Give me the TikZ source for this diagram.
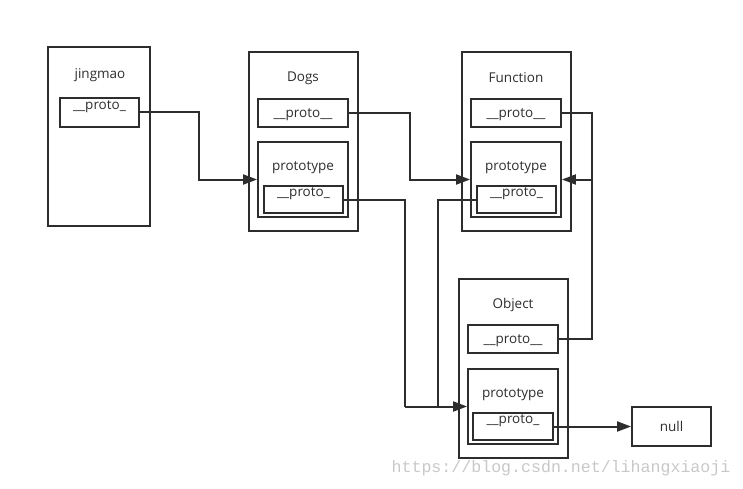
\documentclass[tikz,border=0pt]{standalone}
\usepackage{fontspec}
\setmainfont{Open Sans}
\newfontfamily\markfont{Liberation Mono}
\usepackage{tikz}
\usetikzlibrary{arrows.meta,calc}
\usepackage{xcolor}
\definecolor{inkgray}{RGB}{45, 45, 45}
\definecolor{markgray}{RGB}{200, 200, 200}

\begin{document}
\begin{tikzpicture}[x=1pt, y=-1pt, >={Triangle[length=14pt, width=10pt]},
    box/.style={draw=inkgray, line width=1.9pt, inner sep=0pt},
    txt/.style={inkgray, font=\fontsize{13.5}{15}\selectfont, inner sep=0pt},
    link/.style={draw=inkgray, line width=2pt}]
    \useasboundingbox (0, 0) rectangle (743, 489);
    % jingmao
    \node[box, minimum width=102, minimum height=179] (jm-out) at (99, 136.5) {};
    \node[txt] (jm-title) at (100, 75) {jingmao};
    \node[box, minimum width=79, minimum height=29] (jm-proto) at (99.5, 112.5) {};
    \node[txt] (jm-proto-t) at (99.5, 107) {\_\_proto\_};
    % Dogs
    \node[box, minimum width=109, minimum height=179] (dogs-out) at (303.5, 141.5) {};
    \node[txt] (dogs-title) at (303, 78) {Dogs};
    \node[box, minimum width=90, minimum height=28] (dogs-proto) at (303, 113) {};
    \node[txt] (dogs-proto-t) at (303, 114.5) {\_\_proto\_\_};
    \node[box, minimum width=90, minimum height=75] (dogs-type) at (303, 179.5) {};
    \node[txt] (dogs-type-t) at (303, 168) {prototype};
    \node[box, minimum width=79, minimum height=27] (dogs-inner) at (303.5, 199.5) {};
    \node[txt] (dogs-inner-t) at (303.5, 194) {\_\_proto\_};
    % Function
    \node[box, minimum width=109, minimum height=179] (fn-out) at (516.5, 141.5) {};
    \node[txt] (fn-title) at (516, 78) {Function};
    \node[box, minimum width=90, minimum height=28] (fn-proto) at (516, 113) {};
    \node[txt] (fn-proto-t) at (516, 114.5) {\_\_proto\_\_};
    \node[box, minimum width=90, minimum height=75] (fn-type) at (516, 179.5) {};
    \node[txt] (fn-type-t) at (516, 168) {prototype};
    \node[box, minimum width=79, minimum height=27] (fn-inner) at (516.5, 199.5) {};
    \node[txt] (fn-inner-t) at (516.5, 194) {\_\_proto\_};
    % Object
    \node[box, minimum width=109, minimum height=179] (obj-out) at (513.5, 368.5) {};
    \node[txt] (obj-title) at (513, 305) {Object};
    \node[box, minimum width=90, minimum height=28] (obj-proto) at (513, 339) {};
    \node[txt] (obj-proto-t) at (513, 340.5) {\_\_proto\_\_};
    \node[box, minimum width=90, minimum height=75] (obj-type) at (513, 406.5) {};
    \node[txt] (obj-type-t) at (513, 395) {prototype};
    \node[box, minimum width=80, minimum height=27] (obj-inner) at (513, 426.5) {};
    \node[txt] (obj-inner-t) at (513, 421) {\_\_proto\_};
    % null
    \node[box, minimum width=79, minimum height=39] (null) at (671.5, 426.5) {};
    \node[txt] (null-t) at (671.5, 426.5) {null};
    % links
    \coordinate (fn-bend) at (592, 179.5);
    \coordinate (obj-bend) at (405, 406.5);
    \coordinate (obj-bend2) at (438, 406.5);
    \draw[link, ->] (jm-proto.east) -| ($(jm-proto.east)!.5!(dogs-type.west)$) |- (dogs-type.west);
    \draw[link, ->] (dogs-proto.east) -| ($(dogs-proto.east)!.5!(fn-type.west)$) |- (fn-type.west);
    \draw[link] (fn-proto.east) -| (fn-bend);
    \draw[link] (obj-proto.east) -| (fn-bend);
    \draw[link, ->] (fn-bend) -- (fn-type.east);
    \draw[link] (dogs-inner.east) -| (obj-bend);
    \draw[link] (fn-inner.west) -| (obj-bend2);
    \draw[link, ->] (obj-bend) -- (obj-type.west);
    \draw[link, ->] (obj-inner.east) -- (null.west);
    % watermark
    \node[markgray, font=\markfont\fontsize{16.6}{18}\selectfont, inner sep=0pt] (mark) at (561, 468) {https://blog.csdn.net/lihangxiaoji};
  \end{tikzpicture}
\end{document}
